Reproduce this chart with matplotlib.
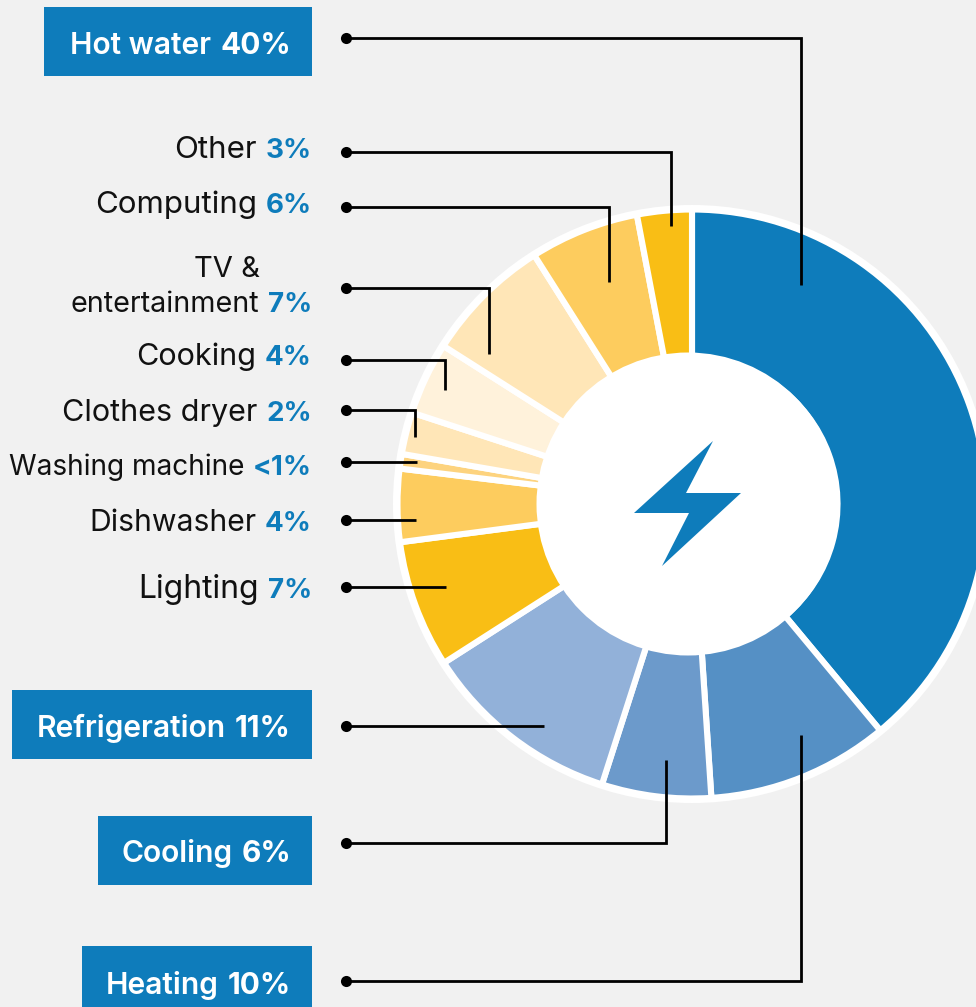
import matplotlib
matplotlib.use("Agg")
import matplotlib.pyplot as plt
from matplotlib.patches import Circle, Polygon, Rectangle

# clockwise from 12 o'clock
categories = ["Hot water", "Heating", "Cooling", "Refrigeration", "Lighting", "Dishwasher",
              "Washing machine", "Clothes dryer", "Cooking", "TV &\nentertainment", "Computing", "Other"]
shares = [39, 10, 6, 11, 7, 4, 0.8, 2.3, 4, 7, 6, 3]
share_labels = ["40%", "10%", "6%", "11%", "7%", "4%", "<1%", "2%", "4%", "7%", "6%", "3%"]
colors = ["#0E7CBB", "#5590C5", "#6C9ACB", "#92B1D9", "#F9BE15", "#FDCC5E",
          "#FDD37E", "#FFE6B7", "#FFF2DB", "#FFE6B7", "#FDCC5E", "#F9BE15"]

BLUE = "#0E7CBB"
BG = "#F1F1F1"
CX, CY = 692, 504
FONT = "Inter"

fig = plt.figure(figsize=(9.76, 10.07), dpi=100, facecolor=BG)
ax = fig.add_axes([0, 0, 1, 1])
ax.set_facecolor(BG)

ax.add_patch(Circle((CX, CY), 299, fc="white", ec="none", zorder=0))
# y axis is inverted later, so counterclock here reads clockwise on screen
ax.pie(shares, colors=colors, startangle=-90, counterclock=True, center=(CX, CY), radius=294.5,
       wedgeprops=dict(width=149, edgecolor="white", linewidth=4.4))
ax.set_xlim(0, 976)
ax.set_ylim(1007, 0)
ax.set_aspect("equal")
ax.axis("off")
ax.add_patch(Circle((688, CY), 151.5, fc="white", ec="none", zorder=3))
ax.add_patch(Polygon([(713, 441), (686, 493), (741, 493), (662, 566), (689, 513), (634, 513)],
                     closed=True, fc=BLUE, ec="none", zorder=4))

# leader lines: x, y paths starting at the dot
leaders = {
    "Hot water": ([346, 801, 801], [38, 38, 285]),
    "Other": ([346, 671, 671], [152, 152, 226]),
    "Computing": ([346, 609, 609], [207, 207, 282]),
    "TV &\nentertainment": ([346, 489, 489], [288, 288, 354]),
    "Cooking": ([346, 445, 445], [360, 360, 390]),
    "Clothes dryer": ([346, 415, 415], [410, 410, 437]),
    "Washing machine": ([346, 417], [462, 462]),
    "Dishwasher": ([346, 416], [520, 520]),
    "Lighting": ([346, 446], [587, 587]),
    "Refrigeration": ([346, 544], [726, 726]),
    "Cooling": ([346, 666, 666], [843, 843, 760]),
    "Heating": ([346, 801, 801], [981, 981, 735]),
}
for xs, ys in leaders.values():
    ax.plot(xs, ys, color="black", lw=2.0, solid_joinstyle="miter", solid_capstyle="butt", zorder=5)
    ax.plot(xs[0], ys[0], "o", color="black", ms=8, mew=0, zorder=5)

renderer = fig.canvas.get_renderer()


def two_part(x, y, name, value, name_color, value_color, name_weight, name_fs, value_fs):
    """Right-aligned label whose value part is bold."""
    v = ax.text(x, y, value, ha="right", va="baseline", color=value_color, fontsize=value_fs,
                fontweight="bold", family=FONT, zorder=6)
    left = v.get_window_extent(renderer).x0
    ax.text(left - 9, y, name, ha="right", va="baseline", color=name_color, fontsize=name_fs,
            fontweight=name_weight, family=FONT, zorder=6)


# boxed groups: name -> left, top, bottom, baseline
boxes = {
    "Hot water": (44, 7, 76, 54),
    "Refrigeration": (12, 690, 759, 737),
    "Cooling": (98, 816, 885, 862),
    "Heating": (82, 946, 1007, 994),
}
for name, (x0, y0, y1, base) in boxes.items():
    ax.add_patch(Rectangle((x0, y0), 312 - x0, y1 - y0, fc=BLUE, ec="none", zorder=5))
    two_part(291, base, name, share_labels[categories.index(name)], "white", "white", "semibold", 21.6, 21.5)

# plain labels: name -> baseline, name font size
baselines = {
    "Other": (158, 22.5),
    "Computing": (213, 22.5),
    "Cooking": (365, 22),
    "Clothes dryer": (421, 22),
    "Washing machine": (475, 20.2),
    "Dishwasher": (531, 21.7),
    "Lighting": (598, 23),
}
for name, (base, fs) in baselines.items():
    two_part(312, base, name, share_labels[categories.index(name)], "#111111", BLUE, "normal", fs, 20)

two_part(312, 312, "entertainment", share_labels[categories.index("TV &\nentertainment")],
         "#111111", BLUE, "normal", 20.7, 20)
ax.text(260, 277, "TV &", ha="right", va="baseline", color="#111111", fontsize=21, family=FONT, zorder=6)

fig.savefig("out.png", dpi=100, facecolor=BG)
